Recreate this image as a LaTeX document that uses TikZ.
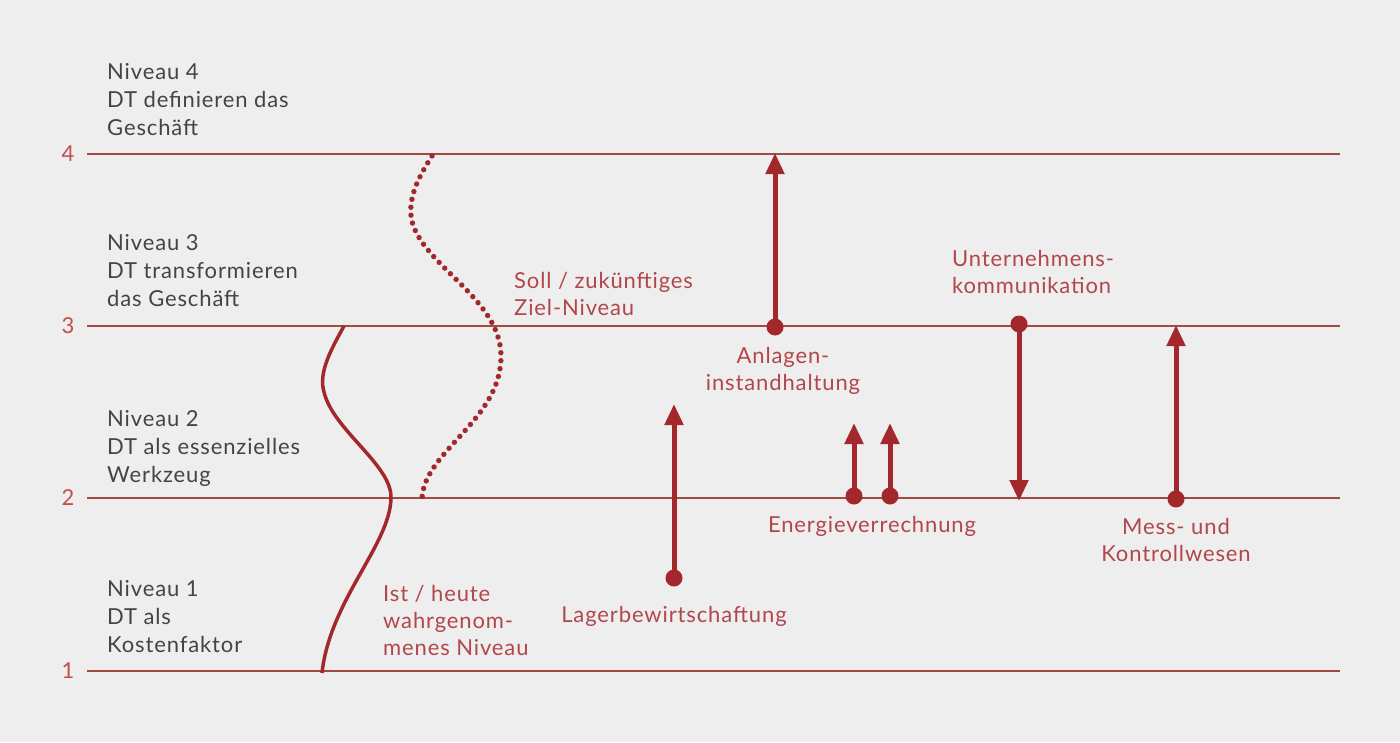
\documentclass[tikz,border=0pt]{standalone}
\usepackage{fontspec}
\setmainfont{Lato}[LetterSpace=4]
\usetikzlibrary{arrows.meta}
\definecolor{bg}{HTML}{EEEEEE}
\definecolor{gline}{HTML}{A24B43}
\definecolor{arr}{HTML}{A3282C}
\definecolor{redtxt}{HTML}{B2474B}
\definecolor{numtxt}{HTML}{C0504D}
\definecolor{graytxt}{HTML}{444444}
\tikzset{
  level/.style={draw=gline, line width=1.6pt},
  numlbl/.style={text=numtxt, font=\fontsize{22}{26}\selectfont, anchor=center, inner sep=0pt},
  lvltxt/.style={text=graytxt, font=\fontsize{22}{28}\selectfont, align=left, anchor=north west, inner sep=0pt},
  redlbl/.style={text=redtxt, font=\fontsize{22}{27}\selectfont, inner sep=0pt},
  dotpt/.style={circle, fill=arr, inner sep=0pt, minimum size=17pt},
  uparr/.style={draw=arr, line width=5pt, -{Triangle[length=21pt,width=18pt]}},
  curvesolid/.style={draw=arr, line width=3.5pt},
  curvedot/.style={draw=arr, line width=5.4pt, line cap=round, dash pattern=on 0pt off 8pt},
}
\begin{document}
\begin{tikzpicture}[x=1pt,y=-1pt]
\fill[bg] (0,0) rectangle (1400,742);
\useasboundingbox (0,0) rectangle (1400,742);

% level lines
\coordinate (l4a) at (87,154); \coordinate (l4b) at (1340,154);
\coordinate (l3a) at (87,326); \coordinate (l3b) at (1340,326);
\coordinate (l2a) at (87,498); \coordinate (l2b) at (1340,498);
\coordinate (l1a) at (87,671); \coordinate (l1b) at (1340,671);
\draw[level] (l4a) -- (l4b);
\draw[level] (l3a) -- (l3b);
\draw[level] (l2a) -- (l2b);
\draw[level] (l1a) -- (l1b);

% numbers
\node[numlbl] (n4) at (68,154) {4};
\node[numlbl] (n3) at (68,326) {3};
\node[numlbl] (n2) at (68,498) {2};
\node[numlbl] (n1) at (68,671) {1};

% level texts
\node[lvltxt] (t4) at (107,63) {Niveau 4\\DT definieren das\\Geschäft};
\node[lvltxt] (t3) at (107,234) {Niveau 3\\DT transformieren\\das Geschäft};
\node[lvltxt] (t2) at (107,410) {Niveau 2\\DT als essenzielles\\Werkzeug};
\node[lvltxt] (t1) at (107,580) {Niveau 1\\DT als\\Kostenfaktor};

% solid curve (Ist)
\draw[curvesolid] (344,326) .. controls (332,348) and (318,372) .. (324,392)
  .. controls (333,430) and (392,465) .. (391,498)
  .. controls (390,545) and (330,600) .. (322,673);

% dotted curve (Soll)
\draw[curvedot] (432,156) .. controls (420,175) and (405,200) .. (413,225)
  .. controls (428,268) and (500,300) .. (501,355)
  .. controls (502,420) and (425,450) .. (422,498);

% labels along curves
\node[redlbl, align=left, anchor=north west] (ist) at (383,585) {Ist / heute\\wahrgenom-\\menes Niveau};
\node[redlbl, align=left, anchor=north west] (soll) at (514,272) {Soll / zukünftiges\\Ziel-Niveau};

% Anlageninstandhaltung
\node[dotpt] (d1) at (775,327) {};
\coordinate (e1) at (775,153);
\draw[uparr] (d1.center) -- (e1);
\node[redlbl, align=center, anchor=north] (lb1) at (783,347) {Anlagen-\\instandhaltung};

% Lagerbewirtschaftung
\node[dotpt] (d2) at (674,578) {};
\coordinate (e2) at (674,404);
\draw[uparr] (d2.center) -- (e2);
\node[redlbl, anchor=north] (lb2) at (674,606) {Lagerbewirtschaftung};

% Energieverrechnung
\node[dotpt] (d3) at (854,496) {};
\coordinate (e3) at (854,423);
\draw[uparr] (d3.center) -- (e3);
\node[dotpt] (d4) at (890,496) {};
\coordinate (e4) at (890,423);
\draw[uparr] (d4.center) -- (e4);
\node[redlbl, anchor=north] (lb3) at (872,516) {Energieverrechnung};

% Unternehmenskommunikation
\node[dotpt] (d5) at (1019,324) {};
\coordinate (e5) at (1019,501);
\draw[uparr] (d5.center) -- (e5);
\node[redlbl, align=left, anchor=north west] (lb5) at (952,250) {Unternehmens-\\kommunikation};

% Mess- und Kontrollwesen
\node[dotpt] (d6) at (1176,499) {};
\coordinate (e6) at (1176,325);
\draw[uparr] (d6.center) -- (e6);
\node[redlbl, align=center, anchor=north] (lb6) at (1176,518) {Mess- und\\Kontrollwesen};

\end{tikzpicture}
\end{document}
